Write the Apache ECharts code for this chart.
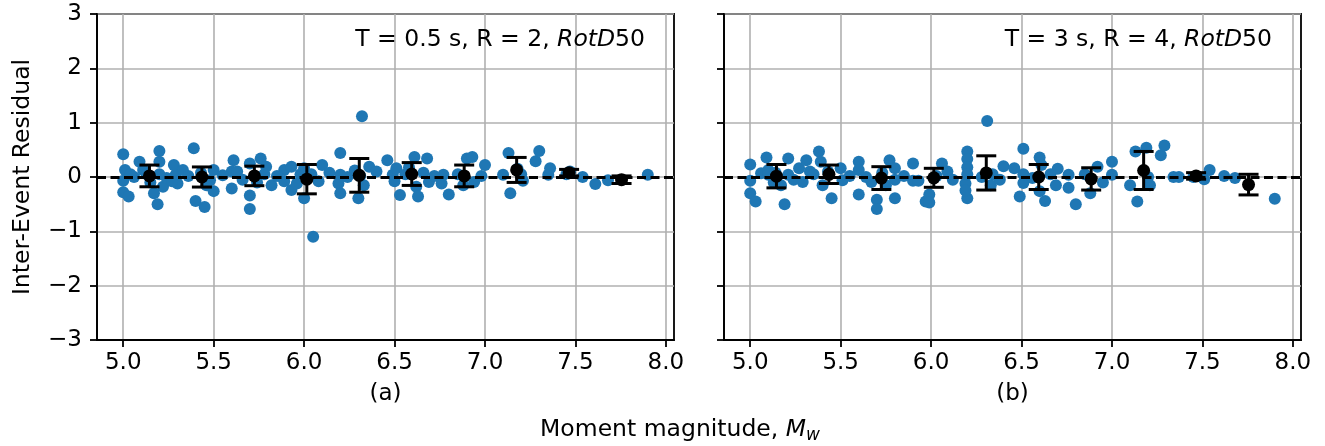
<!DOCTYPE html>
<html><head><meta charset="utf-8">
<script src="https://cdn.jsdelivr.net/npm/echarts@6/dist/echarts.min.js"></script>
<style>html,body{margin:0;padding:0;background:#fff}#c{width:1325px;height:446px}</style>
</head><body><div id="c"></div>
<script>
const xTicks = [5.0, 5.5, 6.0, 6.5, 7.0, 7.5, 8.0];
const yTicks = [-3, -2, -1, 0, 1, 2, 3];
const binCenters = [5.145, 5.435, 5.725, 6.015, 6.305, 6.595, 6.885, 7.175, 7.465, 7.755];
const leftMean = [0.02, 0.0, 0.02, -0.04, 0.03, 0.055, 0.02, 0.13, 0.08, -0.05];
const leftStd  = [0.2, 0.185, 0.18, 0.27, 0.31, 0.21, 0.2, 0.23, 0.06, 0.07];
const rightMean = [0.015, 0.05, -0.02, -0.015, 0.075, 0.0, -0.035, 0.12, 0.02, -0.14];
const rightStd  = [0.215, 0.17, 0.21, 0.175, 0.315, 0.23, 0.205, 0.35, 0.06, 0.19];
const leftPoints = [
[5.00,0.42],[5.01,0.13],[5.00,-0.07],[5.00,-0.28],[5.03,-0.36],[5.06,0.00],[5.09,0.28],[5.11,0.13],[5.17,-0.30],[5.19,-0.50],
[5.20,0.48],[5.20,0.28],[5.22,-0.18],[5.20,0.05],[5.28,0.22],[5.29,0.04],[5.30,-0.12],[5.33,0.13],[5.39,0.53],[5.40,-0.44],
[5.45,-0.55],[5.48,-0.06],[5.50,0.13],[5.50,-0.26],[5.61,0.31],[5.60,0.10],[5.60,-0.21],[5.63,0.10],[5.70,0.25],[5.70,-0.34],
[5.70,-0.59],[5.76,0.34],[5.79,0.19],[5.78,0.05],[5.82,-0.15],[5.89,0.13],[5.89,-0.08],[5.93,0.19],[5.93,-0.24],[5.98,0.05],
[5.13,0.05],[5.15,-0.10],[5.24,-0.02],[5.36,0.02],[5.43,0.08],[5.46,-0.15],[5.55,0.03],[5.66,-0.05],[5.74,-0.10],[5.85,0.02],
[5.96,-0.12],[5.04,0.05],[5.27,-0.08],
[6.00,-0.39],[6.00,0.16],[6.05,-1.10],[6.10,0.22],[6.20,0.44],[6.20,0.04],[6.19,-0.12],[6.20,-0.30],[6.24,0.00],[6.30,-0.39],
[6.32,1.12],[6.33,-0.15],[6.36,0.19],[6.40,0.10],[6.46,0.31],[6.49,0.04],[6.51,0.16],[6.50,-0.08],[6.53,-0.33],[6.61,0.37],
[6.62,-0.18],[6.63,-0.36],[6.68,0.34],[6.69,-0.09],[6.76,-0.12],[6.77,0.04],[6.80,-0.32],[6.90,0.34],[6.93,0.37],[6.94,-0.09],
[7.00,0.22],[6.04,0.05],[6.08,-0.08],[6.14,0.08],[6.28,0.12],[6.31,0.02],[6.56,0.05],[6.58,0.18],[6.66,0.08],[6.72,0.02],
[6.85,0.05],[6.88,-0.15],[6.98,0.02],
[7.10,0.04],[7.13,0.44],[7.14,-0.30],[7.21,-0.07],[7.28,0.29],[7.30,0.48],[7.35,0.04],[7.36,0.16],[7.47,0.10],[7.54,0.00],
[7.61,-0.13],[7.68,-0.06],[7.90,0.04],[7.18,0.15],[7.20,0.05],[7.45,0.05]
];
const rightPoints = [
[5.00,0.23],[5.00,-0.07],[5.00,-0.30],[5.03,-0.45],[5.06,0.07],[5.09,0.36],[5.10,0.13],[5.10,0.04],[5.17,-0.15],[5.19,-0.50],
[5.21,0.34],[5.21,0.04],[5.27,0.16],[5.29,-0.09],[5.31,0.31],[5.33,0.10],[5.38,0.47],[5.39,0.28],[5.40,-0.15],[5.45,-0.39],
[5.50,0.16],[5.51,-0.06],[5.60,0.28],[5.60,0.13],[5.60,-0.32],[5.64,0.00],[5.67,-0.09],[5.70,-0.42],[5.70,-0.59],[5.77,0.31],
[5.80,0.16],[5.80,-0.39],[5.80,-0.05],[5.90,0.25],[5.90,-0.07],[5.93,-0.07],[5.97,-0.45],
[5.14,0.08],[5.24,-0.05],[5.35,0.05],[5.43,0.10],[5.55,0.02],[5.73,0.08],[5.75,-0.15],[5.85,0.02],[5.13,-0.10],
[5.99,-0.32],[5.99,-0.47],[6.06,0.25],[6.09,0.10],[6.20,0.47],[6.20,0.33],[6.20,0.18],[6.19,-0.12],[6.20,-0.39],[6.31,1.03],
[6.33,-0.15],[6.34,0.05],[6.40,0.20],[6.46,0.16],[6.49,-0.36],[6.51,0.52],[6.51,-0.11],[6.51,0.05],[6.60,0.36],[6.61,0.22],
[6.60,-0.26],[6.63,-0.44],[6.70,0.15],[6.69,-0.15],[6.76,0.04],[6.76,-0.20],[6.80,-0.50],[6.88,-0.30],[6.92,0.19],[6.95,-0.10],
[7.00,0.28],[7.00,0.04],
[6.03,0.02],[6.12,-0.05],[6.20,0.05],[6.28,0.00],[6.38,-0.05],[6.56,-0.02],[6.66,0.05],[6.85,0.05],[6.19,-0.25],
[7.10,-0.15],[7.13,0.47],[7.14,-0.45],[7.19,0.54],[7.21,-0.15],[7.20,0.00],[7.27,0.40],[7.29,0.58],[7.34,0.00],[7.37,0.00],
[7.45,0.00],[7.51,-0.04],[7.54,0.13],[7.62,0.02],[7.68,-0.02],[7.90,-0.40]
];
const panelNames = ['(a)', '(b)'];
const xMin = 4.855, xMax = 8.045;

const FONT = 'DejaVu Sans';
const FS = 23;
const FT = 23.5;
const chart = echarts.init(document.getElementById('c'), null, {renderer: 'canvas'});

function xAxisCfg(i) {
  return {
    gridIndex: i, type: 'value', min: xMin, max: xMax,
    axisLine: {show: true, onZero: false, lineStyle: {color: '#000', width: 1.8}},
    axisTick: {show: true, customValues: xTicks, length: 7, lineStyle: {color: '#000', width: 1.8}},
    axisLabel: {customValues: xTicks, formatter: v => Number(v).toFixed(1), fontSize: FS, fontFamily: FONT, color: '#000', margin: 12},
    splitLine: {show: true, lineStyle: {color: '#b0b0b0', width: 1.6}},
    name: panelNames[i], nameLocation: 'middle', nameGap: 43,
    nameTextStyle: {fontSize: FS, fontFamily: FONT, color: '#000'}
  };
}
function yAxisCfg(i) {
  return {
    gridIndex: i, type: 'value', min: yTicks[0], max: yTicks[yTicks.length - 1], interval: 1,
    axisLine: {show: true, onZero: false, lineStyle: {color: '#000', width: 1.8}},
    axisTick: {show: true, length: 7, lineStyle: {color: '#000', width: 1.8}},
    axisLabel: {show: i === 0, formatter: v => (v < 0 ? '\u2212' + Math.abs(v) : String(v)), fontSize: FS, fontFamily: FONT, color: '#000', margin: 15},
    splitLine: {show: true, lineStyle: {color: '#b0b0b0', width: 1.6}},
    name: i === 0 ? 'Inter-Event Residual' : '', nameLocation: 'middle', nameGap: 62,
    nameTextStyle: {fontSize: FT, fontFamily: FONT, color: '#000'}
  };
}
function errSeries(i, mean, std) {
  return {
    type: 'custom', xAxisIndex: i, yAxisIndex: i, z: 4, silent: true,
    data: binCenters.map((c, k) => [c, mean[k] - std[k], mean[k] + std[k]]),
    renderItem: (params, api) => {
      const lo = api.coord([api.value(0), api.value(1)]);
      const hi = api.coord([api.value(0), api.value(2)]);
      const hw = 10;
      const st = {stroke: '#000', lineWidth: 3};
      return {type: 'group', children: [
        {type: 'line', shape: {x1: lo[0], y1: lo[1], x2: hi[0], y2: hi[1]}, style: st},
        {type: 'line', shape: {x1: lo[0] - hw, y1: lo[1], x2: lo[0] + hw, y2: lo[1]}, style: st},
        {type: 'line', shape: {x1: hi[0] - hw, y1: hi[1], x2: hi[0] + hw, y2: hi[1]}, style: st}
      ]};
    },
    markLine: {silent: true, symbol: 'none', label: {show: false},
      lineStyle: {type: [9, 4.5], color: '#000', width: 2.8}, data: [{yAxis: 0}]}
  };
}
function meanSeries(i, mean) {
  return {type: 'scatter', xAxisIndex: i, yAxisIndex: i, z: 5, silent: true,
    symbol: 'circle', symbolSize: 13, itemStyle: {color: '#000', opacity: 1},
    data: binCenters.map((c, k) => [c, mean[k]])};
}
function ptSeries(i, pts) {
  return {type: 'scatter', xAxisIndex: i, yAxisIndex: i, z: 2, silent: true,
    symbol: 'circle', symbolSize: 12, itemStyle: {color: '#1f77b4', opacity: 1}, data: pts};
}
const rich = {
  n: {fontSize: FT, fontFamily: FONT, color: '#000'},
  i: {fontSize: FT, fontFamily: FONT, fontStyle: 'italic', color: '#000'},
  s: {fontSize: 17, fontFamily: FONT, fontStyle: 'italic', color: '#000', padding: [12, 0, 0, 0]}
};
chart.setOption({
  animation: false,
  grid: [
    {left: 97, top: 14, width: 577, height: 326, show: true, borderColor: '#000', borderWidth: 1.8, backgroundColor: 'transparent'},
    {left: 724, top: 14, width: 577, height: 326, show: true, borderColor: '#000', borderWidth: 1.8, backgroundColor: 'transparent'}
  ],
  xAxis: [xAxisCfg(0), xAxisCfg(1)],
  yAxis: [yAxisCfg(0), yAxisCfg(1)],
  series: [
    ptSeries(0, leftPoints), errSeries(0, leftMean, leftStd), meanSeries(0, leftMean),
    ptSeries(1, rightPoints), errSeries(1, rightMean, rightStd), meanSeries(1, rightMean)
  ],
  graphic: [
    {type: 'text', x: 645, y: 40, z: 10, style: {text: '{n|T = 0.5 s, R = 2, }{i|RotD}{n|50}', rich: rich, align: 'right', verticalAlign: 'middle'}},
    {type: 'text', x: 1272, y: 40, z: 10, style: {text: '{n|T = 3 s, R = 4, }{i|RotD}{n|50}', rich: rich, align: 'right', verticalAlign: 'middle'}},
    {type: 'text', x: 680, y: 430, z: 10, style: {text: '{n|Moment magnitude, }{i|M}{s|w}', rich: rich, align: 'center', verticalAlign: 'middle'}}
  ]
});
</script></body></html>
